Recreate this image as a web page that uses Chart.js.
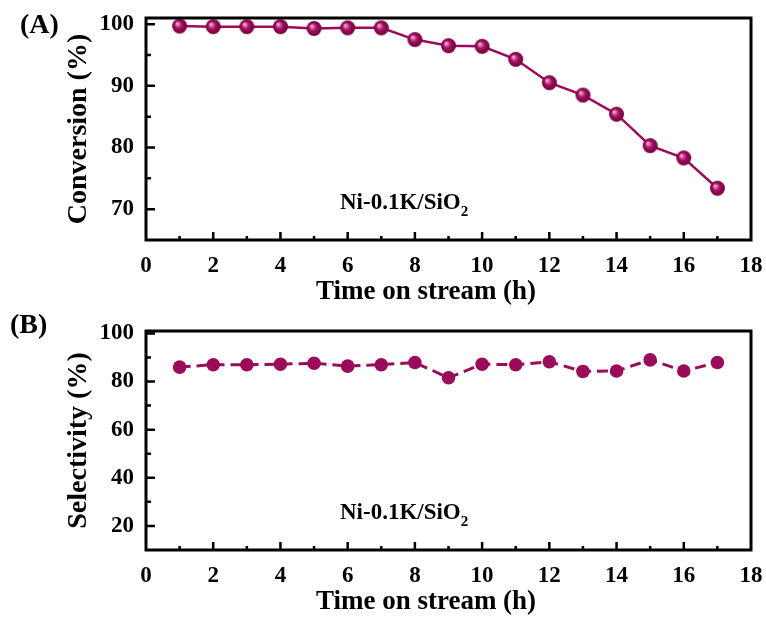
<!DOCTYPE html>
<html lang="en">
  <head>
    <meta charset="UTF-8" />
    <title>Ni-0.1K/SiO2 stability</title>
    <script src="https://cdn.jsdelivr.net/npm/chart.js"></script>
    <style>
      body {
        margin: 0;
        background: #fff;
      }
      .wrap {
        position: relative;
        width: 766px;
        height: 623px;
      }
      canvas {
        position: absolute;
        left: 0;
      }
    </style>
  </head>
  <body>
    <div class="wrap">
      <canvas id="convChart" width="766" height="310" style="top: 0"></canvas>
      <canvas id="selChart" width="766" height="313" style="top: 310px"></canvas>
    </div>

    <script>
      const hours = [1, 2, 3, 4, 5, 6, 7, 8, 9, 10, 11, 12, 13, 14, 15, 16, 17];
      const conversion = [99.7, 99.6, 99.6, 99.6, 99.3, 99.4, 99.4, 97.5, 96.5, 96.4, 94.3, 90.5, 88.5, 85.4, 80.3, 78.3, 73.4];
      const selectivity = [86.0, 87.0, 87.0, 87.2, 87.6, 86.4, 87.0, 87.9, 81.6, 87.2, 87.0, 88.2, 84.2, 84.4, 89.0, 84.4, 87.9];

      const xTicks = [0, 2, 4, 6, 8, 10, 12, 14, 16, 18];
      const xMinor = [1, 3, 5, 7, 9, 11, 13, 15, 17];
      const convTicks = [70, 80, 90, 100];
      const convMinor = [75, 85, 95];
      const selTicks = [20, 40, 60, 80, 100];
      const selMinor = [30, 50, 70, 90];

      const xTitle = "Time on stream (h)";
      const sample = "Ni-0.1K/SiO";
      const sampleSub = "2";

      const wine = "#9b0b59";
      const serif = "'Liberation Serif', 'Times New Roman', serif";

      // shaded ball used as the point style in panel A
      function makeBall(r) {
        const c = document.createElement("canvas");
        const s = r * 2 + 2;
        c.width = s;
        c.height = s;
        const g = c.getContext("2d");
        const grad = g.createRadialGradient(s / 2 - r * 0.35, s / 2 - r * 0.35, 0, s / 2, s / 2, r);
        grad.addColorStop(0, "#ffe6f3");
        grad.addColorStop(0.18, "#e27ab6");
        grad.addColorStop(0.5, "#a3115f");
        grad.addColorStop(1, "#6e0039");
        g.fillStyle = grad;
        g.beginPath();
        g.arc(s / 2, s / 2, r, 0, Math.PI * 2);
        g.fill();
        return c;
      }

      // box, inward ticks, x title, sample label and panel letter
      const framePlugin = {
        id: "frame",
        afterDraw(chart, args, opts) {
          const { ctx, chartArea: a } = chart;
          const xs = chart.scales.x;
          const ys = chart.scales.y;
          ctx.save();
          ctx.strokeStyle = "#000";
          ctx.lineWidth = 2.5;
          ctx.beginPath();
          xTicks.forEach((v) => {
            const px = xs.getPixelForValue(v);
            if (v > xs.min && v < xs.max) {
              ctx.moveTo(px, a.bottom);
              ctx.lineTo(px, a.bottom - 8);
            }
          });
          xMinor.forEach((v) => {
            const px = xs.getPixelForValue(v);
            ctx.moveTo(px, a.bottom);
            ctx.lineTo(px, a.bottom - 4);
          });
          opts.major.forEach((v) => {
            const py = ys.getPixelForValue(v);
            ctx.moveTo(a.left, py);
            ctx.lineTo(a.left + 9, py);
          });
          opts.minor.forEach((v) => {
            const py = ys.getPixelForValue(v);
            ctx.moveTo(a.left, py);
            ctx.lineTo(a.left + 5, py);
          });
          ctx.stroke();

          ctx.lineWidth = 3;
          ctx.strokeRect(a.left, a.top, a.right - a.left, a.bottom - a.top);

          ctx.fillStyle = "#000";
          ctx.textBaseline = "alphabetic";
          ctx.textAlign = "center";
          ctx.font = "bold 27px " + serif;
          ctx.fillText(xTitle, 426, a.bottom + 58.5);

          ctx.textAlign = "left";
          ctx.font = "bold 23px " + serif;
          const tx = 340;
          const ty = a.bottom - 31;
          ctx.fillText(sample, tx, ty);
          const w = ctx.measureText(sample).width;
          ctx.font = "bold 15px " + serif;
          ctx.fillText(sampleSub, tx + w, ty + 7);

          ctx.font = "bold 28px " + serif;
          ctx.fillText(opts.panel, opts.panelX, opts.panelY);
          ctx.restore();
        },
      };

      function makeChart(id, values, o) {
        return new Chart(document.getElementById(id), {
          type: "line",
          data: {
            labels: hours,
            datasets: [
              {
                data: values,
                borderColor: wine,
                borderWidth: o.dash ? 3 : 2.5,
                borderDash: o.dash || [],
                backgroundColor: wine,
                pointStyle: o.ball || "circle",
                pointRadius: 6.8,
                pointBackgroundColor: wine,
                pointBorderWidth: 0,
                tension: 0,
              },
            ],
          },
          options: {
            responsive: false,
            animation: false,
            layout: { padding: { left: 0, right: 15, top: o.padTop, bottom: 0 } },
            plugins: {
              legend: { display: false },
              tooltip: { enabled: false },
              frame: o.frame,
            },
            scales: {
              x: {
                type: "linear",
                min: 0,
                max: 18,
                grid: { display: false, drawTicks: false },
                border: { display: false },
                afterBuildTicks: (s) => {
                  s.ticks = xTicks.map((v) => ({ value: v }));
                },
                afterFit: (s) => {
                  s.height = o.xHeight;
                  s.paddingLeft = 0;
                  s.paddingRight = 0;
                },
                ticks: {
                  padding: 12,
                  color: "#000",
                  font: { family: serif, size: 23, weight: "bold" },
                },
              },
              y: {
                min: o.yMin,
                max: o.yMax,
                grid: { display: false, drawTicks: false },
                border: { display: false },
                afterBuildTicks: (s) => {
                  s.ticks = o.frame.major.map((v) => ({ value: v }));
                },
                afterFit: (s) => {
                  s.width = 146;
                  s.paddingTop = 0;
                  s.paddingBottom = 0;
                },
                ticks: {
                  padding: 12,
                  color: "#000",
                  font: { family: serif, size: 23, weight: "bold" },
                },
                title: {
                  display: true,
                  text: o.yTitle,
                  color: "#000",
                  padding: { top: 62, bottom: 0 },
                  font: { family: serif, size: 28, weight: "bold" },
                },
              },
            },
          },
          plugins: [framePlugin],
        });
      }

      makeChart("convChart", conversion, {
        yMin: 65,
        yMax: 101,
        padTop: 18,
        xHeight: 70,
        yTitle: "Conversion (%)",
        ball: makeBall(7.5),
        frame: { major: convTicks, minor: convMinor, panel: "(A)", panelX: 20, panelY: 33 },
      });

      makeChart("selChart", selectivity, {
        yMin: 10,
        yMax: 101,
        padTop: 21,
        xHeight: 73,
        yTitle: "Selectivity (%)",
        dash: [11, 6],
        frame: { major: selTicks, minor: selMinor, panel: "(B)", panelX: 10, panelY: 23 },
      });
    </script>
  </body>
</html>
